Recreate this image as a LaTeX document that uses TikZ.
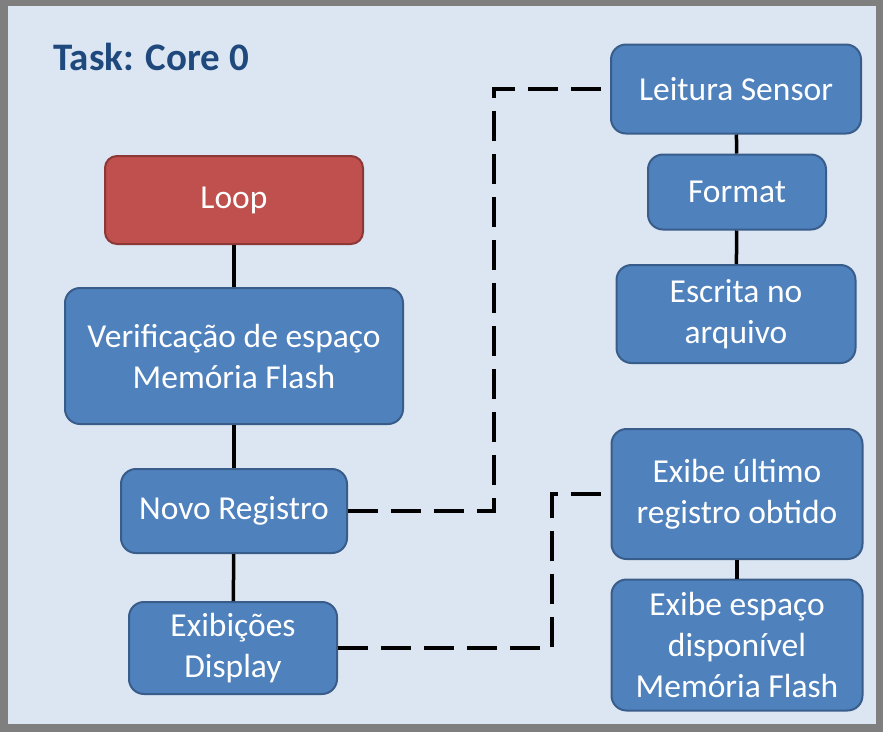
\documentclass[tikz,border=0pt]{standalone}
\usepackage{fontspec}
\setmainfont{Carlito}
\usetikzlibrary{positioning}
\definecolor{panelbg}{HTML}{DCE6F2}
\definecolor{framegrey}{HTML}{7F7F7F}
\definecolor{stagefill}{HTML}{4F81BD}
\definecolor{stageline}{HTML}{385D8A}
\definecolor{loopfill}{HTML}{C0504D}
\definecolor{loopline}{HTML}{8C3836}
\definecolor{titleblue}{HTML}{1F497D}
\tikzset{
  stage/.style={draw=stageline, fill=stagefill, line width=2pt,
    rounded corners=15pt, text=white, align=center, inner sep=0pt,
    font=\fontsize{33.5}{41}\selectfont},
  link/.style={line width=3.5pt},
  flow/.style={line width=3.5pt, dash pattern=on 30pt off 13pt},
}

\begin{document}
\begin{tikzpicture}[x=1pt, y=-1pt]
  \useasboundingbox (0,0) rectangle (883,732);
  \fill[framegrey] (0,0) rectangle (883,732);
  \fill[panelbg] (8,6) rectangle (876,724);

  \node[anchor=west, text=titleblue, font=\fontsize{39}{44}\bfseries]
    (title) at (50,57) {Task: Core 0};

  % left column
  \node[stage, draw=loopline, fill=loopfill, rounded corners=12pt,
        minimum width=258pt, minimum height=88pt] (loop) at (234,200) {Loop};
  \node[stage, minimum width=338pt, minimum height=136pt]
    (verif) at (234,356) {Verificação de espaço\\Memória Flash};
  \node[stage, minimum width=226pt, minimum height=84pt]
    (novo) at (234,511) {Novo Registro};
  \node[stage, minimum width=208pt, minimum height=92pt]
    (exib) at (233,648) {Exibições\\Display};

  % right column
  \node[stage, minimum width=250pt, minimum height=89pt]
    (leitura) at (736,89) {Leitura Sensor};
  \node[stage, minimum width=178pt, minimum height=75pt]
    (format) at (737,192) {Format};
  \node[stage, minimum width=239pt, minimum height=98pt]
    (escrita) at (736,314) {Escrita no\\arquivo};
  \node[stage, minimum width=251pt, minimum height=130pt]
    (ultimo) at (737,494) {Exibe último\\registro obtido};
  \node[stage, minimum width=251pt, minimum height=131pt]
    (espaco) at (737,645) {Exibe espaço\\disponível\\Memória Flash};

  \foreach \a/\b in {loop/verif, verif/novo, novo/exib,
                     leitura/format, format/escrita, ultimo/espaco}
    \draw[link] (\a) -- (\b);

  \draw[flow] (novo.east) -- ++(146,0) |- (leitura.west);
  \draw[flow] (exib.east) -- ++(214,0) |- (ultimo.west);
\end{tikzpicture}
\end{document}
